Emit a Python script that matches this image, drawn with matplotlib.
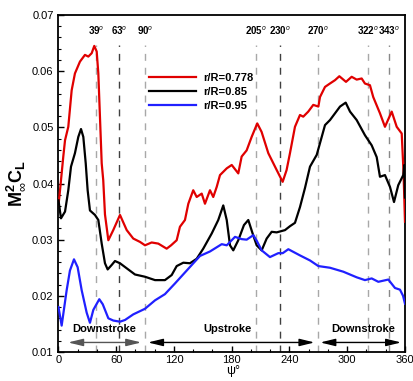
import numpy as np
import matplotlib
matplotlib.use("Agg")
import matplotlib.pyplot as plt
from matplotlib.ticker import MultipleLocator

plt.rcParams['font.family'] = ['Liberation Sans', 'DejaVu Sans']
plt.rcParams['mathtext.fontset'] = 'custom'
plt.rcParams['mathtext.rm'] = 'Liberation Sans'
plt.rcParams['mathtext.it'] = 'Liberation Sans:italic'
plt.rcParams['mathtext.bf'] = 'Liberation Sans:bold'

# r/R = 0.778
psi_r = [0, 1.6, 5, 6.8, 10.2, 13.7, 17.1, 22.3, 27.5, 31, 34.5, 37.2, 39.7, 41.4, 44.9, 46.5,
         48.3, 51.8, 56.9, 63.9, 70.9, 77.7, 84.7, 89.9, 96.8, 103.7, 112.4, 117, 122.8, 126.2,
         131.4, 134.9, 140, 143.6, 148.8, 152.2, 157.4, 160.8, 164.4, 167.8, 174.8, 180, 186.8,
         190.3, 195.5, 200.7, 206.5, 211, 218, 226.7, 232.9, 237, 240.5, 245.7, 250.9, 254.3,
         259.5, 264.7, 270, 271.7, 276.9, 282, 287.3, 291.8, 298.7, 304.6, 309.8, 315, 318.4,
         323.6, 327, 334, 339.2, 346.2, 351.4, 356.6, 358.5, 360]
cl_r = [0.0361, 0.0388, 0.0448, 0.0477, 0.0501, 0.0566, 0.0596, 0.0617, 0.0629, 0.0626, 0.0632,
        0.0645, 0.0635, 0.0596, 0.0436, 0.0406, 0.0345, 0.0299, 0.0317, 0.0344, 0.0317, 0.0302,
        0.0296, 0.0290, 0.0295, 0.0293, 0.0284, 0.0290, 0.0299, 0.0323, 0.0335, 0.0364, 0.0388,
        0.0376, 0.0382, 0.0364, 0.0388, 0.0376, 0.0394, 0.0415, 0.0427, 0.0433, 0.0418, 0.0448,
        0.0459, 0.0483, 0.0507, 0.0492, 0.0454, 0.0424, 0.0403, 0.0424, 0.0454, 0.0501, 0.0522,
        0.0519, 0.0528, 0.0540, 0.0537, 0.0554, 0.0572, 0.0578, 0.0584, 0.0591, 0.0581, 0.0590,
        0.0585, 0.0587, 0.0578, 0.0575, 0.0554, 0.0525, 0.0501, 0.0528, 0.0501, 0.0489, 0.0420,
        0.0332]

# r/R = 0.85
psi_k = [0, 2.6, 6.8, 10.2, 13, 17.1, 20.6, 23.4, 25.8, 28.3, 30.3, 32.7, 37.9, 41.4, 44.9, 48.3,
         51.1, 55.3, 58.7, 63.9, 70.9, 79.5, 89.9, 100.3, 110.6, 117.6, 122.8, 129.7, 136.6,
         143.6, 150.4, 159.2, 166, 171.2, 174.8, 178.2, 181.6, 186.8, 192.7, 197.2, 201.7,
         205.9, 211.1, 216.3, 221.5, 226.7, 235.3, 240.5, 245.7, 250.9, 256.1, 261.3, 268.3,
         273.5, 276.9, 282.1, 287.3, 292.5, 298.4, 302.9, 309.8, 318.4, 325.4, 330.6, 334,
         339.2, 344.4, 348.6, 353, 358.2, 359.3, 360]
cl_k = [0.0370, 0.0338, 0.0350, 0.0388, 0.0430, 0.0454, 0.0483, 0.0497, 0.0483, 0.0436, 0.0388,
        0.0352, 0.0344, 0.0335, 0.0293, 0.0258, 0.0247, 0.0255, 0.0262, 0.0258, 0.0249, 0.0238,
        0.0234, 0.0228, 0.0228, 0.0237, 0.0253, 0.0259, 0.0258, 0.0266, 0.0284, 0.0311, 0.0335,
        0.0361, 0.0335, 0.0290, 0.0281, 0.0299, 0.0326, 0.0335, 0.0311, 0.0290, 0.0281, 0.0302,
        0.0314, 0.0313, 0.0317, 0.0324, 0.0330, 0.0358, 0.0392, 0.0430, 0.0451, 0.0483, 0.0504,
        0.0513, 0.0525, 0.0537, 0.0544, 0.0528, 0.0513, 0.0486, 0.0468, 0.0447, 0.0412, 0.0415,
        0.0394, 0.0367, 0.0397, 0.0415, 0.0433, 0.0375]

# r/R = 0.95
psi_b = [0, 3.3, 8.5, 11.9, 16.1, 19.9, 24.1, 29.3, 32.7, 36.2, 42.4, 46, 51.8, 57, 63.9, 69.1,
         77.7, 89.9, 100.3, 110.6, 121, 133.2, 147, 157.4, 169.6, 174.8, 183.4, 190.3, 195.5,
         202.4, 206, 211.1, 219.7, 228.4, 233, 238.8, 250.9, 261.3, 270, 282.1, 295.9, 309.8,
         318.4, 325.4, 332.3, 342.7, 349.6, 354.8, 358, 360]
cl_b = [0.0180, 0.0147, 0.0210, 0.0245, 0.0265, 0.0251, 0.0210, 0.0170, 0.0152, 0.0175, 0.0194,
        0.0185, 0.0160, 0.0156, 0.0154, 0.0157, 0.0167, 0.0177, 0.0192, 0.0203, 0.0222, 0.0245,
        0.0271, 0.0279, 0.0292, 0.0290, 0.0305, 0.0301, 0.0300, 0.0308, 0.0298, 0.0281, 0.0269,
        0.0276, 0.0276, 0.0283, 0.0272, 0.0263, 0.0253, 0.0250, 0.0243, 0.0233, 0.0228, 0.0231,
        0.0225, 0.0229, 0.0214, 0.0211, 0.0200, 0.0186]

mark_angles = [39, 63, 90, 205, 230, 270, 322, 343]
mark_colors = ['#a8a8a8', '#404040', '#a8a8a8', '#a8a8a8', '#404040', '#a8a8a8', '#a8a8a8', '#888888']

phases = [("Downstroke", 10, 86, 47), ("Upstroke", 93, 266, 176), ("Downstroke", 272, 356, 317)]

fig = plt.figure(figsize=(4.13, 3.81), dpi=100)
ax = fig.add_axes([0.1416, 0.0761, 0.839, 0.8845])

for a, c in zip(mark_angles, mark_colors):
    ax.axvline(a, ymin=0, ymax=0.91, color=c, lw=1.0, ls=(0, (5, 5)), zorder=1)
    ax.text(a, 0.0672, f"{a}$^{{o}}$", ha='center', va='center', fontsize=7, fontweight='bold')

ax.plot(psi_r, cl_r, color='#e00000', lw=1.6, label='r/R=0.778', zorder=3)
ax.plot(psi_k, cl_k, color='black', lw=1.6, label='r/R=0.85', zorder=3)
ax.plot(psi_b, cl_b, color='#2020ff', lw=1.6, label='r/R=0.95', zorder=3)

for name, x0, x1, xc in phases:
    col = '#555555' if x0 < 20 else 'black'
    ax.annotate('', xy=(x0, 0.0117), xytext=(x1, 0.0117),
                arrowprops=dict(arrowstyle='<|-|>,head_length=0.9,head_width=0.22',
                                color=col, lw=1.0, shrinkA=0, shrinkB=0))
    ax.text(xc, 0.0141, name, ha='center', va='center', fontsize=8, fontweight='bold')

leg = ax.legend(loc='upper left', bbox_to_anchor=(0.245, 0.845), frameon=False,
                handlelength=4.2, handletextpad=0.7, labelspacing=0.38, borderpad=0,
                prop={'weight': 'bold', 'size': 8})

ax.set_xlim(0, 360)
ax.set_ylim(0.01, 0.07)
ax.xaxis.set_major_locator(MultipleLocator(60))
ax.xaxis.set_minor_locator(MultipleLocator(20))
ax.yaxis.set_major_locator(MultipleLocator(0.01))
ax.yaxis.set_minor_locator(MultipleLocator(0.002))
ax.tick_params(which='both', direction='in', labelsize=8)
ax.tick_params(which='major', length=4, width=1)
ax.tick_params(which='minor', length=2.5, width=0.8)
ax.tick_params(axis='x', which='major', pad=2.5)
ax.set_yticklabels([f"{v:.2f}" for v in ax.get_yticks()])
for s in ax.spines.values():
    s.set_linewidth(1.3)

ax.set_xlabel('ψ°', fontsize=9, va='top')
ax.xaxis.set_label_coords(0.505, -0.038)
ax.set_ylabel(r'$\mathbf{M}_{\infty}^{\mathbf{2}}\mathbf{C}_{\mathbf{L}}$', fontsize=13, labelpad=4)

fig.savefig("out.png", dpi=100)
